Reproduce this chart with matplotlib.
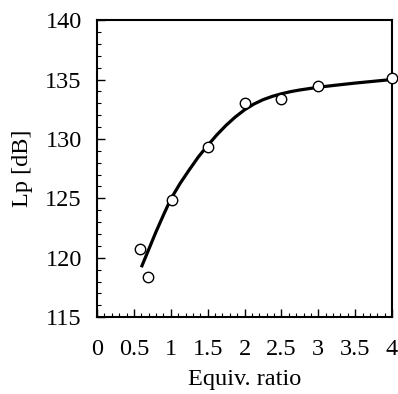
import numpy as np
import matplotlib
matplotlib.use("Agg")
import matplotlib.pyplot as plt
from matplotlib.ticker import MultipleLocator

plt.rcParams['font.family'] = ['Liberation Serif', 'DejaVu Serif']
plt.rcParams['font.size'] = 17.5

# measured points
ratio = [0.58, 0.69, 1.02, 1.50, 2.01, 2.50, 3.00, 4.00]
lp = [120.76, 118.34, 124.83, 129.33, 133.0, 133.4, 134.44, 135.11]

# fitted curve
curve_x = [0.60, 0.70, 0.80, 0.90, 1.00, 1.125, 1.25, 1.375, 1.50, 1.625, 1.75, 1.875,
           2.00, 2.125, 2.25, 2.375, 2.50, 2.625, 2.75, 3.00, 3.25, 3.50, 3.75, 4.00]
curve_y = [119.2, 120.7, 122.2, 123.6, 124.95, 126.25, 127.4, 128.5, 129.45, 130.35,
           131.15, 131.85, 132.45, 132.93, 133.3, 133.58, 133.8, 133.98, 134.12, 134.35,
           134.53, 134.7, 134.85, 135.0]

xticks = [0, 0.5, 1, 1.5, 2, 2.5, 3, 3.5, 4]
xticklabels = ['0', '0.5', '1', '1.5', '2', '2.5', '3', '3.5', '4']
yticks = [115, 120, 125, 130, 135, 140]

fig = plt.figure(figsize=(3.98, 3.94), dpi=100)
ax = fig.add_axes([0.244, 0.195, 0.741, 0.754])

ax.plot(curve_x, curve_y, color='black', linewidth=2.3, solid_capstyle='butt')
ax.plot(ratio, lp, 'o', markersize=7.5, markerfacecolor='white',
        markeredgecolor='black', markeredgewidth=1.0, clip_on=False, zorder=3)

ax.set_xlim(0, 4)
ax.set_ylim(115, 140)
ax.set_xticks(xticks)
ax.set_xticklabels(xticklabels)
ax.set_yticks(yticks)
ax.xaxis.set_minor_locator(MultipleLocator(0.1))
ax.yaxis.set_minor_locator(MultipleLocator(1))
ax.tick_params(which='both', direction='in', top=False, right=False)
ax.tick_params(which='major', length=6, width=1.0)
ax.tick_params(which='minor', length=3, width=0.8)
ax.tick_params(axis='x', which='major', pad=16)
ax.tick_params(axis='y', which='major', pad=11)
for s in ax.spines.values():
    s.set_linewidth(1.5)

ax.set_xlabel('Equiv. ratio', labelpad=6)
ax.set_ylabel('Lp [dB]', labelpad=9)

fig.savefig('out.png', dpi=100)
